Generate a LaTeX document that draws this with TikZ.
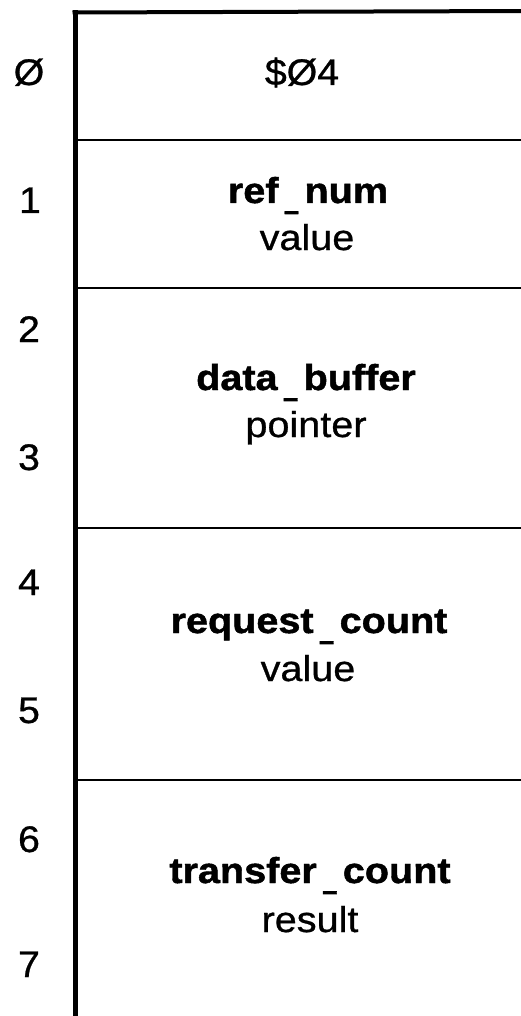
\documentclass[tikz,border=0pt]{standalone}
\usepackage{fontspec}
\setmainfont{Liberation Sans}
\newfontfamily\widefont[FakeStretch=1.1,FakeBold=0.8,BoldFeatures={FakeBold=1.3}]{Liberation Sans}
\newfontfamily\numberfont[FakeStretch=1.06,FakeBold=0.8]{Liberation Sans}
\newcommand\fldbar{\makebox[26pt]{\raisebox{-3pt}{\scalebox{0.6}[1.8]{\_}}}}
\begin{document}
\begin{tikzpicture}[x=1pt,y=-1pt,
  rownum/.style={font=\numberfont\fontsize{37}{37}\selectfont, anchor=base, inner sep=0pt},
  fname/.style={font=\widefont\bfseries\fontsize{36}{36}\selectfont, anchor=base, inner sep=0pt},
  ftype/.style={font=\widefont\fontsize{36}{36}\selectfont, anchor=base, inner sep=0pt},
  leftedge/.style={line width=5pt},
  topedge/.style={line width=4pt},
  sepline/.style={line width=2pt}]
\useasboundingbox (0,0) rectangle (520,1016);
% frame
\draw[leftedge] (75,1022) -- (75,10);
\draw[topedge] (72.5,12.5) -- (526,11);
\draw[sepline] (75,140) -- (526,140);
\draw[sepline] (75,288) -- (526,288);
\draw[sepline] (75,528) -- (526,528);
\draw[sepline] (75,780) -- (526,780);
% row numbers
\node[rownum] (r0) at (29,85) {Ø};
\node[rownum] (r1) at (30,213) {1};
\node[rownum] (r2) at (29,342) {2};
\node[rownum] (r3) at (29,470) {3};
\node[rownum] (r4) at (29,595) {4};
\node[rownum] (r5) at (29,723) {5};
\node[rownum] (r6) at (29,852) {6};
\node[rownum] (r7) at (29,977) {7};
% contents
\node[rownum] (c0) at (302,85) {\$Ø4};
\node[fname] (c1) at (308,203) {ref\fldbar num};
\node[ftype] (c1t) at (307,250) {value};
\node[fname] (c2) at (306,390) {data\fldbar buffer};
\node[ftype] (c2t) at (306,437) {pointer};
\node[fname] (c3) at (309,633) {request\fldbar count};
\node[ftype] (c3t) at (308,681) {value};
\node[fname] (c4) at (310,883) {transfer\fldbar count};
\node[ftype] (c4t) at (310,932) {result};
\end{tikzpicture}
\end{document}
